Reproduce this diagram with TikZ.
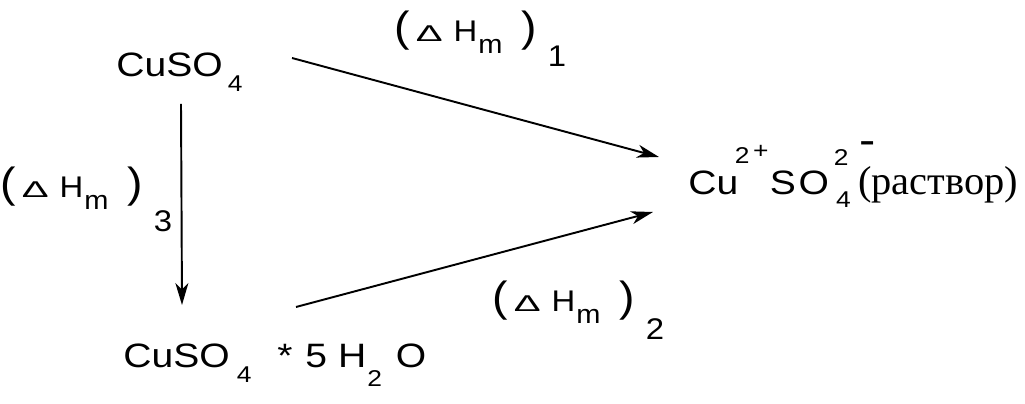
\documentclass[tikz,border=0pt]{standalone}
\usepackage{fontspec}
\setmainfont[FakeStretch=1.155]{Liberation Sans}
\newfontfamily\labfont[FakeStretch=1.1]{Liberation Sans}
\newfontfamily\serifru{Liberation Serif}
\usepackage{tikz}
\usetikzlibrary{arrows.meta}

% (Delta H_m)_n ; #1 index, #2 drop of the index
\newcommand\dH[2]{%
  {\fontsize{24}{24}\selectfont(}\hspace{3.5pt}%
  {\fontsize{13}{13}\selectfont\scalebox{1.6}[1]{Δ}}\hspace{6.2pt}%
  H\hspace{0.5pt}\raisebox{-6.8pt}{\fontsize{15}{15}\selectfont m}\hspace{11pt}%
  {\fontsize{24}{24}\selectfont)}\hspace{6pt}\raisebox{-#2}{#1}}
\newcommand\sm{\fontsize{13}{13}\selectfont}

\begin{document}
\begin{tikzpicture}[
  x=0.02cm, y=-0.02cm,
  chem/.style={inner sep=0pt, anchor=base west, font=\fontsize{19.25}{22}\selectfont},
  lab/.style={inner sep=0pt, anchor=base west, font=\labfont\fontsize{17}{20}\selectfont},
  arr/.style={-{Stealth[length=4.4mm,width=2.6mm,inset=1.3mm]}, line width=1.1pt}
]
\useasboundingbox (0,0) rectangle (1025,404);

\node[chem] (anhyd) at (116,77) {CuSO\hspace{3pt}\raisebox{-8.5pt}{\sm 4}};
\node[chem] (hydr) at (123,368)
  {CuSO\hspace{4pt}\raisebox{-8.5pt}{\sm 4}\hspace{14.7pt}*\hspace{7.3pt}5\hspace{6.3pt}H%
   \hspace{0.6pt}\raisebox{-10.8pt}{\sm 2}\hspace{7.9pt}O};
\node[chem] (soln) at (688,195)
  {Cu\hspace{-2pt}\raisebox{18pt}{\sm 2}\hspace{2.1pt}\raisebox{20.7pt}{\sm +}\hspace{0.8pt}S\hspace{1.5pt}O%
   \hspace{4pt}\rlap{\raisebox{-7.4pt}{\sm 4}}\hspace{-1.2pt}\raisebox{17pt}{\sm 2}%
   \rlap{\hspace{6pt}\raisebox{23pt}{\fontsize{24}{24}\selectfont -}}\hspace{5.5pt}%
   {\serifru\fontsize{23}{26}\selectfont (раствор)}};

\node[lab] (dh1) at (394,42) {\dH{1}{14.2pt}};
\node[lab] (dh2) at (492,312) {\dH{2}{15.9pt}};
\node[lab] (dh3) at (0,198) {\dH{3}{19.3pt}};

\draw[arr] ([shift={(65,27)}]anhyd.base west) -- ([shift={(59,-63)}]hydr.base west);
\draw[arr] ([shift={(176,-19)}]anhyd.base west) -- ([shift={(-29,-38)}]soln.base west);
\draw[arr] ([shift={(173,-61)}]hydr.base west) -- ([shift={(-35,17)}]soln.base west);
\end{tikzpicture}
\end{document}
